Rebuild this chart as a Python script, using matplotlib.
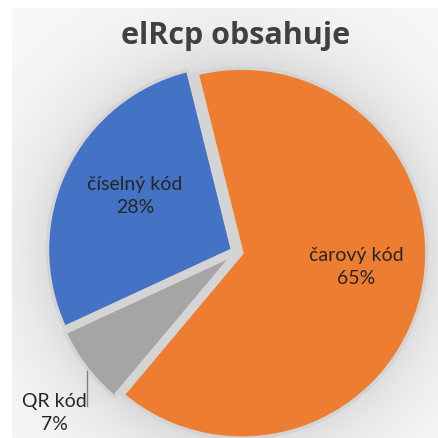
import numpy as np
import matplotlib
matplotlib.use("Agg")
import matplotlib.pyplot as plt

# ---- data ----
categories = ["čarový kód", "QR kód", "číselný kód"]
values = [65, 7, 28]
colors = ["#ED7D31", "#A5A5A5", "#4472C4"]
title = "elRcp obsahuje"

W, H = 438, 439
fig = plt.figure(figsize=(W / 100, H / 100), dpi=100)
ax = fig.add_axes([0, 0, 1, 1])
ax.set_xlim(0, W)
ax.set_ylim(0, H)
ax.set_aspect("equal")
ax.axis("off")

cx, cy, R = 237, H - 253, 185

# background: white margin, light panel with soft shadow around the pie
yy, xx = np.mgrid[0:H, 0:W]
d = np.hypot(xx + 0.5 - cx, (H - yy - 0.5) - cy)
val = 249 - 30 * np.exp(-np.clip(d - R, 0, None) / 45.0)
val[d < R] = 212
val[:, :12] = 255
val[:9, :] = 255
img = np.dstack([val, val, val]) / 255.0
ax.imshow(img, extent=(0, W, 0, H), origin="upper", zorder=0, interpolation="bilinear")

explode = [5.0, 5.0, 5.0]  # pixel offsets
wedges, _ = ax.pie(values, colors=colors, startangle=104, counterclock=False,
                   center=(cx, cy), radius=R, explode=explode,
                   wedgeprops=dict(edgecolor="#d4d4d4", linewidth=2.5),
                   frame=True)
ax.set_xlim(0, W)
ax.set_ylim(0, H)
ax.axis("off")

font = "Lato"
tc = "#262626"
label_pos = {
    "čarový kód": (356, 267),
    "číselný kód": (135, 196),
    "QR kód": (54, 413),
}
for cat, v in zip(categories, values):
    x, y = label_pos[cat]
    ax.text(x, H - y, f"{cat}\n{v}%", ha="center", va="center", fontsize=14,
            family=font, color=tc, linespacing=1.45, zorder=5)

# leader line for the small slice
ax.plot([87, 87], [H - 372, H - 407], color="#808080", lw=1, zorder=5)

fig.text(236 / W, 1 - 36 / H, title, ha="center", va="center", fontsize=22,
         fontweight="bold", family="Open Sans", color="#404040")

fig.savefig("out.png", dpi=100)
